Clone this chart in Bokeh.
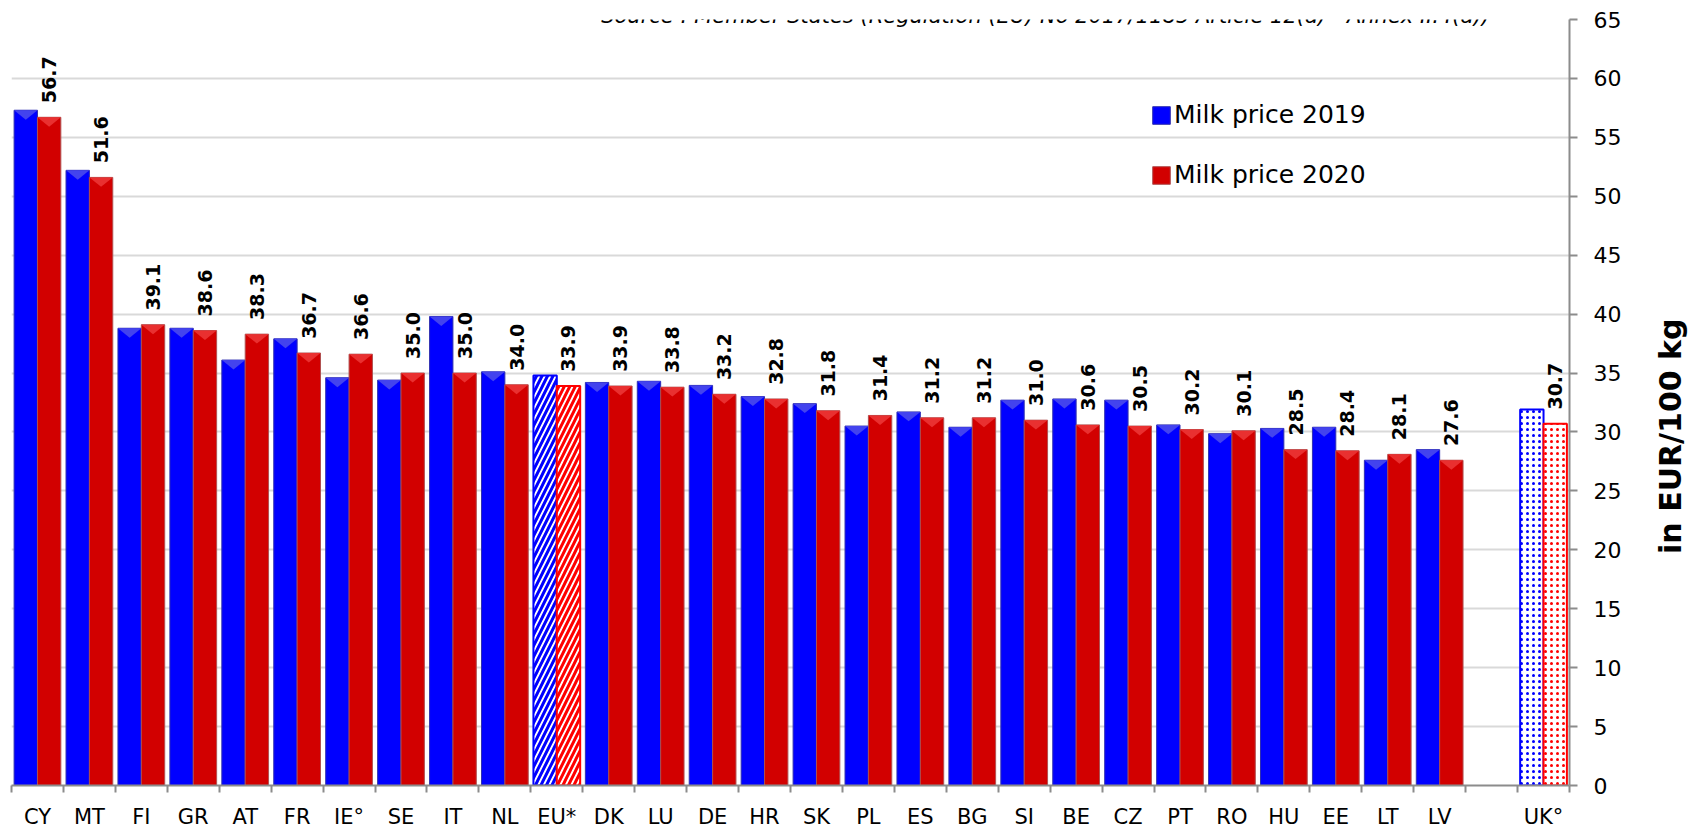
from bokeh.plotting import figure
from bokeh.layouts import row
from bokeh.models import FixedTicker, Label, Legend, LegendItem, ColumnDataSource, Range1d
from bokeh.core.properties import value
from bokeh.embed import file_html
from bokeh.resources import INLINE
import math

# ---------------- data ----------------
countries = ["CY", "MT", "FI", "GR", "AT", "FR", "IE°", "SE", "IT", "NL", "EU*", "DK", "LU", "DE",
             "HR", "SK", "PL", "ES", "BG", "SI", "BE", "CZ", "PT", "RO", "HU", "EE", "LT", "LV", "UK°"]
slots = list(range(28)) + [29]          # one empty slot before UK°
price_2019 = [57.3, 52.2, 38.8, 38.8, 36.1, 37.9, 34.6, 34.4, 39.8, 35.1, 34.8, 34.2, 34.3, 33.95,
              33.0, 32.4, 30.5, 31.7, 30.4, 32.7, 32.8, 32.7, 30.6, 29.85, 30.3, 30.4, 27.6, 28.5, 31.9]
price_2020 = [56.7, 51.6, 39.1, 38.6, 38.3, 36.7, 36.6, 35.0, 35.0, 34.0, 33.9, 33.9, 33.8, 33.2,
              32.8, 31.8, 31.4, 31.2, 31.2, 31.0, 30.6, 30.5, 30.2, 30.1, 28.5, 28.4, 28.1, 27.6, 30.7]
patterned = {"EU*": "/", "UK°": "."}
y_ticks = list(range(0, 70, 5))
series_names = ["Milk price 2019", "Milk price 2020"]
source_note = "Source : Member States (Regulation (EU) No 2017/1185 Article 12(a) - Annex II.4(a))"
axis_title = "in EUR/100 kg"

FONT = "DejaVu Sans"
W = 0.45
OFF = 0.225
N_SLOTS = 30
H = 831

p = figure(width=1631, height=H,
           x_range=Range1d(0, N_SLOTS), y_range=Range1d(0, 65),
           output_backend="svg", toolbar_location=None, y_axis_location="right",
           min_border_left=11, min_border_top=19, min_border_right=62, min_border_bottom=44)
p.outline_line_color = None
p.background_fill_color = "white"

# grid
p.xgrid.visible = False
p.ygrid.ticker = FixedTicker(ticks=y_ticks)
p.ygrid.grid_line_color = "#D9D9D9"
p.ygrid.grid_line_width = 2

# ---------------- bars ----------------
centers = [s + 0.5 for s in slots]
solid = [i for i, c in enumerate(countries) if c not in patterned]


def sub(lst, idx):
    return [lst[i] for i in idx]


src_b = ColumnDataSource(dict(x=[centers[i] - OFF for i in solid], top=sub(price_2019, solid)))
src_r = ColumnDataSource(dict(x=[centers[i] + OFF for i in solid], top=sub(price_2020, solid)))

rb = p.vbar(x="x", top="top", bottom=0, width=W, source=src_b,
            fill_color="#0000FF", line_color="#3030B0", line_width=1)
rr = p.vbar(x="x", top="top", bottom=0, width=W, source=src_r,
            fill_color="#D20000", line_color="#B05050", line_width=1)

# bevel triangles on top of solid bars
DEPTH = 0.8


def tris(xs, tops):
    px, py = [], []
    for x, t in zip(xs, tops):
        px.append([x - W / 2, x + W / 2, x])
        py.append([t, t, t - DEPTH])
    return px, py


bx, by = tris(src_b.data["x"], src_b.data["top"])
p.patches(bx, by, fill_color="#4343EE", line_color=None)
cx, cy = tris(src_r.data["x"], src_r.data["top"])
p.patches(cx, cy, fill_color="#E93030", line_color=None)

# patterned bars (EU*, UK°)
for i, c in enumerate(countries):
    if c in patterned:
        pat = patterned[c]
        scale = 11 if pat == "/" else 6
        weight = 3 if pat == "/" else 1.6
        p.vbar(x=[centers[i] - OFF], top=[price_2019[i]], bottom=0, width=W,
               fill_color="white", line_color="#0000FF", line_width=2,
               hatch_pattern=pat, hatch_color="#0000FF", hatch_scale=scale, hatch_weight=weight)
        p.vbar(x=[centers[i] + OFF], top=[price_2020[i]], bottom=0, width=W,
               fill_color="white", line_color="#FF0000", line_width=2,
               hatch_pattern=pat, hatch_color="#FF0000", hatch_scale=scale, hatch_weight=weight)

# value labels above 2020 bars
lab_src = ColumnDataSource(dict(x=[c + OFF for c in centers],
                                y=[v + 1.2 for v in price_2020],
                                t=["%.1f" % v for v in price_2020]))
p.text(x="x", y="y", text="t", source=lab_src, angle=math.pi / 2,
       text_align="left", text_baseline="middle",
       text_font=value(FONT), text_font_style="bold", text_font_size="19px", text_color="black")

# ---------------- axes ----------------
ya = p.yaxis[0]
ya.ticker = FixedTicker(ticks=y_ticks)
ya.axis_line_color = "#8C8C8C"
ya.axis_line_width = 2
ya.major_tick_line_color = "#8C8C8C"
ya.major_tick_line_width = 2
ya.major_tick_out = 8
ya.major_tick_in = 0
ya.minor_tick_line_color = None
ya.major_label_text_font = FONT
ya.major_label_text_font_size = "22px"
ya.major_label_text_color = "black"
ya.major_label_standoff = 16

xa = p.xaxis[0]
boundaries = sorted(set([s for s in slots] + [s + 1 for s in slots]))
xa.ticker = FixedTicker(ticks=centers, minor_ticks=boundaries)
xa.major_label_overrides = {c: n for c, n in zip(centers, countries)}
xa.major_tick_line_color = None
xa.major_tick_out = 0
xa.major_tick_in = 0
xa.minor_tick_line_color = "#8C8C8C"
xa.minor_tick_line_width = 2
xa.minor_tick_out = 7
xa.minor_tick_in = 0
xa.axis_line_color = "#8C8C8C"
xa.axis_line_width = 2
xa.major_label_text_font = FONT
xa.major_label_text_font_size = "21px"
xa.major_label_text_color = "black"
xa.major_label_standoff = 12

# ---------------- legend ----------------
legend = Legend(items=[LegendItem(label=series_names[0], renderers=[rb]),
                       LegendItem(label=series_names[1], renderers=[rr])],
                location=(1139, 596), orientation="vertical",
                glyph_width=22, glyph_height=22, label_standoff=2, spacing=31,
                padding=0, margin=0, border_line_color=None, background_fill_alpha=0,
                label_text_font=FONT, label_text_font_size="25px", label_text_color="black")
p.add_layout(legend, "center")

# ---------------- source note ----------------
p.add_layout(Label(x=1034, y=770, x_units="screen", y_units="screen", text=source_note,
                   text_align="center", text_baseline="alphabetic",
                   text_font=FONT, text_font_style="italic", text_font_size="21px",
                   text_color="black"))

# ---------------- axis title in a narrow side panel ----------------
pt = figure(width=62, height=H, x_range=Range1d(0, 1), y_range=Range1d(0, 1),
            output_backend="svg", toolbar_location=None,
            x_axis_location=None, y_axis_location=None,
            min_border_left=0, min_border_right=0, min_border_top=19, min_border_bottom=44)
pt.outline_line_color = None
pt.xgrid.visible = False
pt.ygrid.visible = False
pt.text(x=[0.63], y=[0.456], text=[axis_title], angle=math.pi / 2,
        text_align="center", text_baseline="middle",
        text_font=value(FONT), text_font_style="bold", text_font_size="30px", text_color="black")

layout = row(p, pt)
open("out.html", "w").write(file_html(layout, INLINE))
